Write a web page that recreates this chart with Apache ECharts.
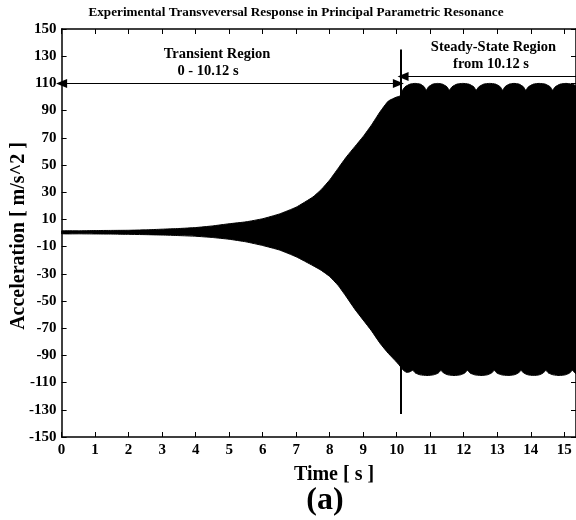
<!DOCTYPE html>
<html>
<head>
<meta charset="utf-8">
<script src="https://cdn.jsdelivr.net/npm/echarts@6/dist/echarts.min.js"></script>
<style>
  html, body { margin: 0; padding: 0; background: #fff; }
  #chart { width: 576px; height: 520px; }
</style>
</head>
<body>
<div id="chart"></div>
<script>
// Envelope of the measured transverse acceleration (m/s^2) vs time (s)
const upperTime = [0, 0.5, 1, 1.5, 2, 2.5, 3, 3.5, 4, 4.5, 5, 5.5, 6, 6.5, 7, 7.5, 7.75, 8, 8.25, 8.5, 8.75, 9, 9.25, 9.5, 9.75, 10, 10.12,
  10.15, 10.25, 10.4, 10.55, 10.7, 10.82, 10.88, 10.95, 11.08, 11.22, 11.36, 11.5, 11.57, 11.65, 11.8, 11.97, 12.15, 12.3, 12.37,
  12.45, 12.6, 12.77, 12.95, 13.09, 13.16, 13.23, 13.36, 13.5, 13.65, 13.78, 13.85, 13.93, 14.08, 14.25, 14.43, 14.58, 14.65,
  14.73, 14.88, 15.05, 15.22, 15.35];
const upperValue = [1.5, 1.6, 1.8, 1.9, 2.0, 2.3, 2.8, 3.3, 4.0, 5.2, 6.8, 8.2, 10.5, 14, 19, 26.5, 32, 39, 47.5, 56, 63.5, 71, 79.5, 89, 97, 100, 101,
  104, 107.5, 109.5, 110, 109.5, 107.5, 105, 107.5, 109.5, 110, 109.5, 107.5, 105, 107.5, 109.5, 110, 109.5, 107.5, 105,
  107.5, 109.5, 110, 109.5, 107.5, 105, 107.5, 109.5, 110, 109.5, 107.5, 105, 107.5, 109.5, 110, 109.5, 107.5, 105,
  107.5, 109.5, 110, 109.5, 108];

const lowerTime = [0, 0.5, 1, 1.5, 2, 2.5, 3, 3.5, 4, 4.5, 5, 5.5, 6, 6.5, 7, 7.5, 7.75, 8, 8.25, 8.5, 8.75, 9, 9.25, 9.5, 9.75, 10, 10.12,
  10.2, 10.3, 10.4, 10.48, 10.56, 10.7, 10.9, 11.1, 11.24, 11.32, 11.4, 11.53, 11.71, 11.9, 12.03, 12.11, 12.19, 12.33, 12.51,
  12.7, 12.83, 12.91, 12.99, 13.13, 13.31, 13.5, 13.63, 13.71, 13.79, 13.92, 14.08, 14.25, 14.37, 14.45, 14.53, 14.67, 14.85,
  15.03, 15.16, 15.24, 15.32, 15.35];
const lowerValue = [-0.5, -0.6, -0.7, -0.8, -1.0, -1.2, -1.5, -1.9, -2.4, -3.3, -4.6, -6.5, -9.2, -12.5, -17.5, -24, -27.5, -32, -38.5, -47, -56, -64, -72, -81, -88.5, -95, -98.5,
  -101, -102.5, -102, -101, -103, -104.3, -104.8, -104.3, -103, -101, -103, -104.3, -104.8, -104.3, -103, -101, -103, -104.3, -104.8,
  -104.3, -103, -101, -103, -104.3, -104.8, -104.3, -103, -101, -103, -104.3, -104.8, -104.3, -103, -101, -103, -104.3, -104.8,
  -104.3, -103, -101, -103, -103.5];

// Axis ticks
const xTicks = [0, 1, 2, 3, 4, 5, 6, 7, 8, 9, 10, 11, 12, 13, 14, 15];
const yTicks = [-150, -130, -110, -90, -70, -50, -30, -10, 10, 30, 50, 70, 90, 110, 130, 150];

// Region markers
const regionSplit = 10.12;
const transientArrowY = 110;
const steadyArrowY = 115;

const FONT = '"Liberation Serif", "DejaVu Serif", serif';
const chart = echarts.init(document.getElementById('chart'), null, { renderer: 'canvas' });

const axisLine = { show: true, onZero: false, lineStyle: { color: '#000', width: 1.5 } };
const tickIn = { show: true, inside: true, length: 5, lineStyle: { color: '#000', width: 1 } };

chart.setOption({
  animation: false,
  backgroundColor: '#fff',
  grid: { left: 61.6, top: 29, width: 515.4, height: 408, containLabel: false },
  xAxis: [
    {
      type: 'value', min: 0, max: 15.35, position: 'bottom',
      axisLine: axisLine,
      axisTick: Object.assign({ customValues: xTicks }, tickIn),
      axisLabel: { customValues: xTicks, color: '#000', fontFamily: FONT, fontWeight: 'bold', fontSize: 15, margin: 6 },
      splitLine: { show: false }
    },
    {
      type: 'value', min: 0, max: 15.35, position: 'top',
      axisLine: axisLine,
      axisTick: Object.assign({ customValues: xTicks }, tickIn),
      axisLabel: { show: false },
      splitLine: { show: false }
    }
  ],
  yAxis: [
    {
      type: 'value', min: -150, max: 150, position: 'left',
      axisLine: axisLine,
      axisTick: Object.assign({ customValues: yTicks }, tickIn),
      axisLabel: { customValues: yTicks, color: '#000', fontFamily: FONT, fontWeight: 'bold', fontSize: 15, margin: 5 },
      splitLine: { show: false }
    },
    {
      type: 'value', min: -150, max: 150, position: 'right',
      axisLine: axisLine,
      axisTick: Object.assign({ customValues: yTicks }, tickIn),
      axisLabel: { show: false },
      splitLine: { show: false }
    }
  ],
  series: [
    {
      type: 'custom',
      xAxisIndex: 0,
      yAxisIndex: 0,
      data: [0],
      clip: true,
      renderItem: function (params, api) {
        const pts = [];
        for (let i = 0; i < upperTime.length; i++) pts.push(api.coord([upperTime[i], upperValue[i]]));
        for (let i = lowerTime.length - 1; i >= 0; i--) pts.push(api.coord([lowerTime[i], lowerValue[i]]));
        return {
          type: 'polygon',
          shape: { points: pts, smooth: 0.15 },
          style: { fill: '#000', stroke: '#000', lineWidth: 1 }
        };
      },
      markLine: {
        silent: true,
        animation: false,
        label: { show: false },
        lineStyle: { color: '#000', width: 1.2, type: 'solid' },
        symbolSize: [9, 11],
        data: [
          [
            { coord: [0, transientArrowY], symbol: 'triangle' },
            { coord: [10.05, transientArrowY], symbol: 'triangle' }
          ],
          [
            { coord: [10.19, steadyArrowY], symbol: 'triangle' },
            { coord: [15.35, steadyArrowY], symbol: 'none' }
          ],
          [
            { coord: [regionSplit, -133], symbol: 'none', lineStyle: { width: 2 } },
            { coord: [regionSplit, 135], symbol: 'none' }
          ]
        ]
      }
    }
  ],
  graphic: [
    { type: 'text', x: 296, y: 13, style: { text: 'Experimental Transveversal Response in Principal Parametric Resonance', font: 'bold 13.2px ' + FONT, fill: '#000', textAlign: 'center', textVerticalAlign: 'middle' } },
    { type: 'text', x: 217, y: 54, style: { text: 'Transient Region', font: 'bold 14.5px ' + FONT, fill: '#000', textAlign: 'center', textVerticalAlign: 'middle' } },
    { type: 'text', x: 208, y: 71, style: { text: '0 - 10.12 s', font: 'bold 14.5px ' + FONT, fill: '#000', textAlign: 'center', textVerticalAlign: 'middle' } },
    { type: 'text', x: 493.5, y: 47, style: { text: 'Steady-State Region', font: 'bold 14.5px ' + FONT, fill: '#000', textAlign: 'center', textVerticalAlign: 'middle' } },
    { type: 'text', x: 491, y: 64, style: { text: 'from 10.12 s', font: 'bold 14.5px ' + FONT, fill: '#000', textAlign: 'center', textVerticalAlign: 'middle' } },
    { type: 'text', x: 334, y: 475, style: { text: 'Time [ s ]', font: 'bold 20px ' + FONT, fill: '#000', textAlign: 'center', textVerticalAlign: 'middle' } },
    { type: 'text', x: 325, y: 501, style: { text: '(a)', font: 'bold 32px ' + FONT, fill: '#000', textAlign: 'center', textVerticalAlign: 'middle' } },
    { type: 'text', x: 19, y: 236, rotation: Math.PI / 2, style: { text: 'Acceleration [ m/s^2 ]', font: 'bold 20px ' + FONT, fill: '#000', textAlign: 'center', textVerticalAlign: 'middle' } }
  ]
});
</script>
</body>
</html>
